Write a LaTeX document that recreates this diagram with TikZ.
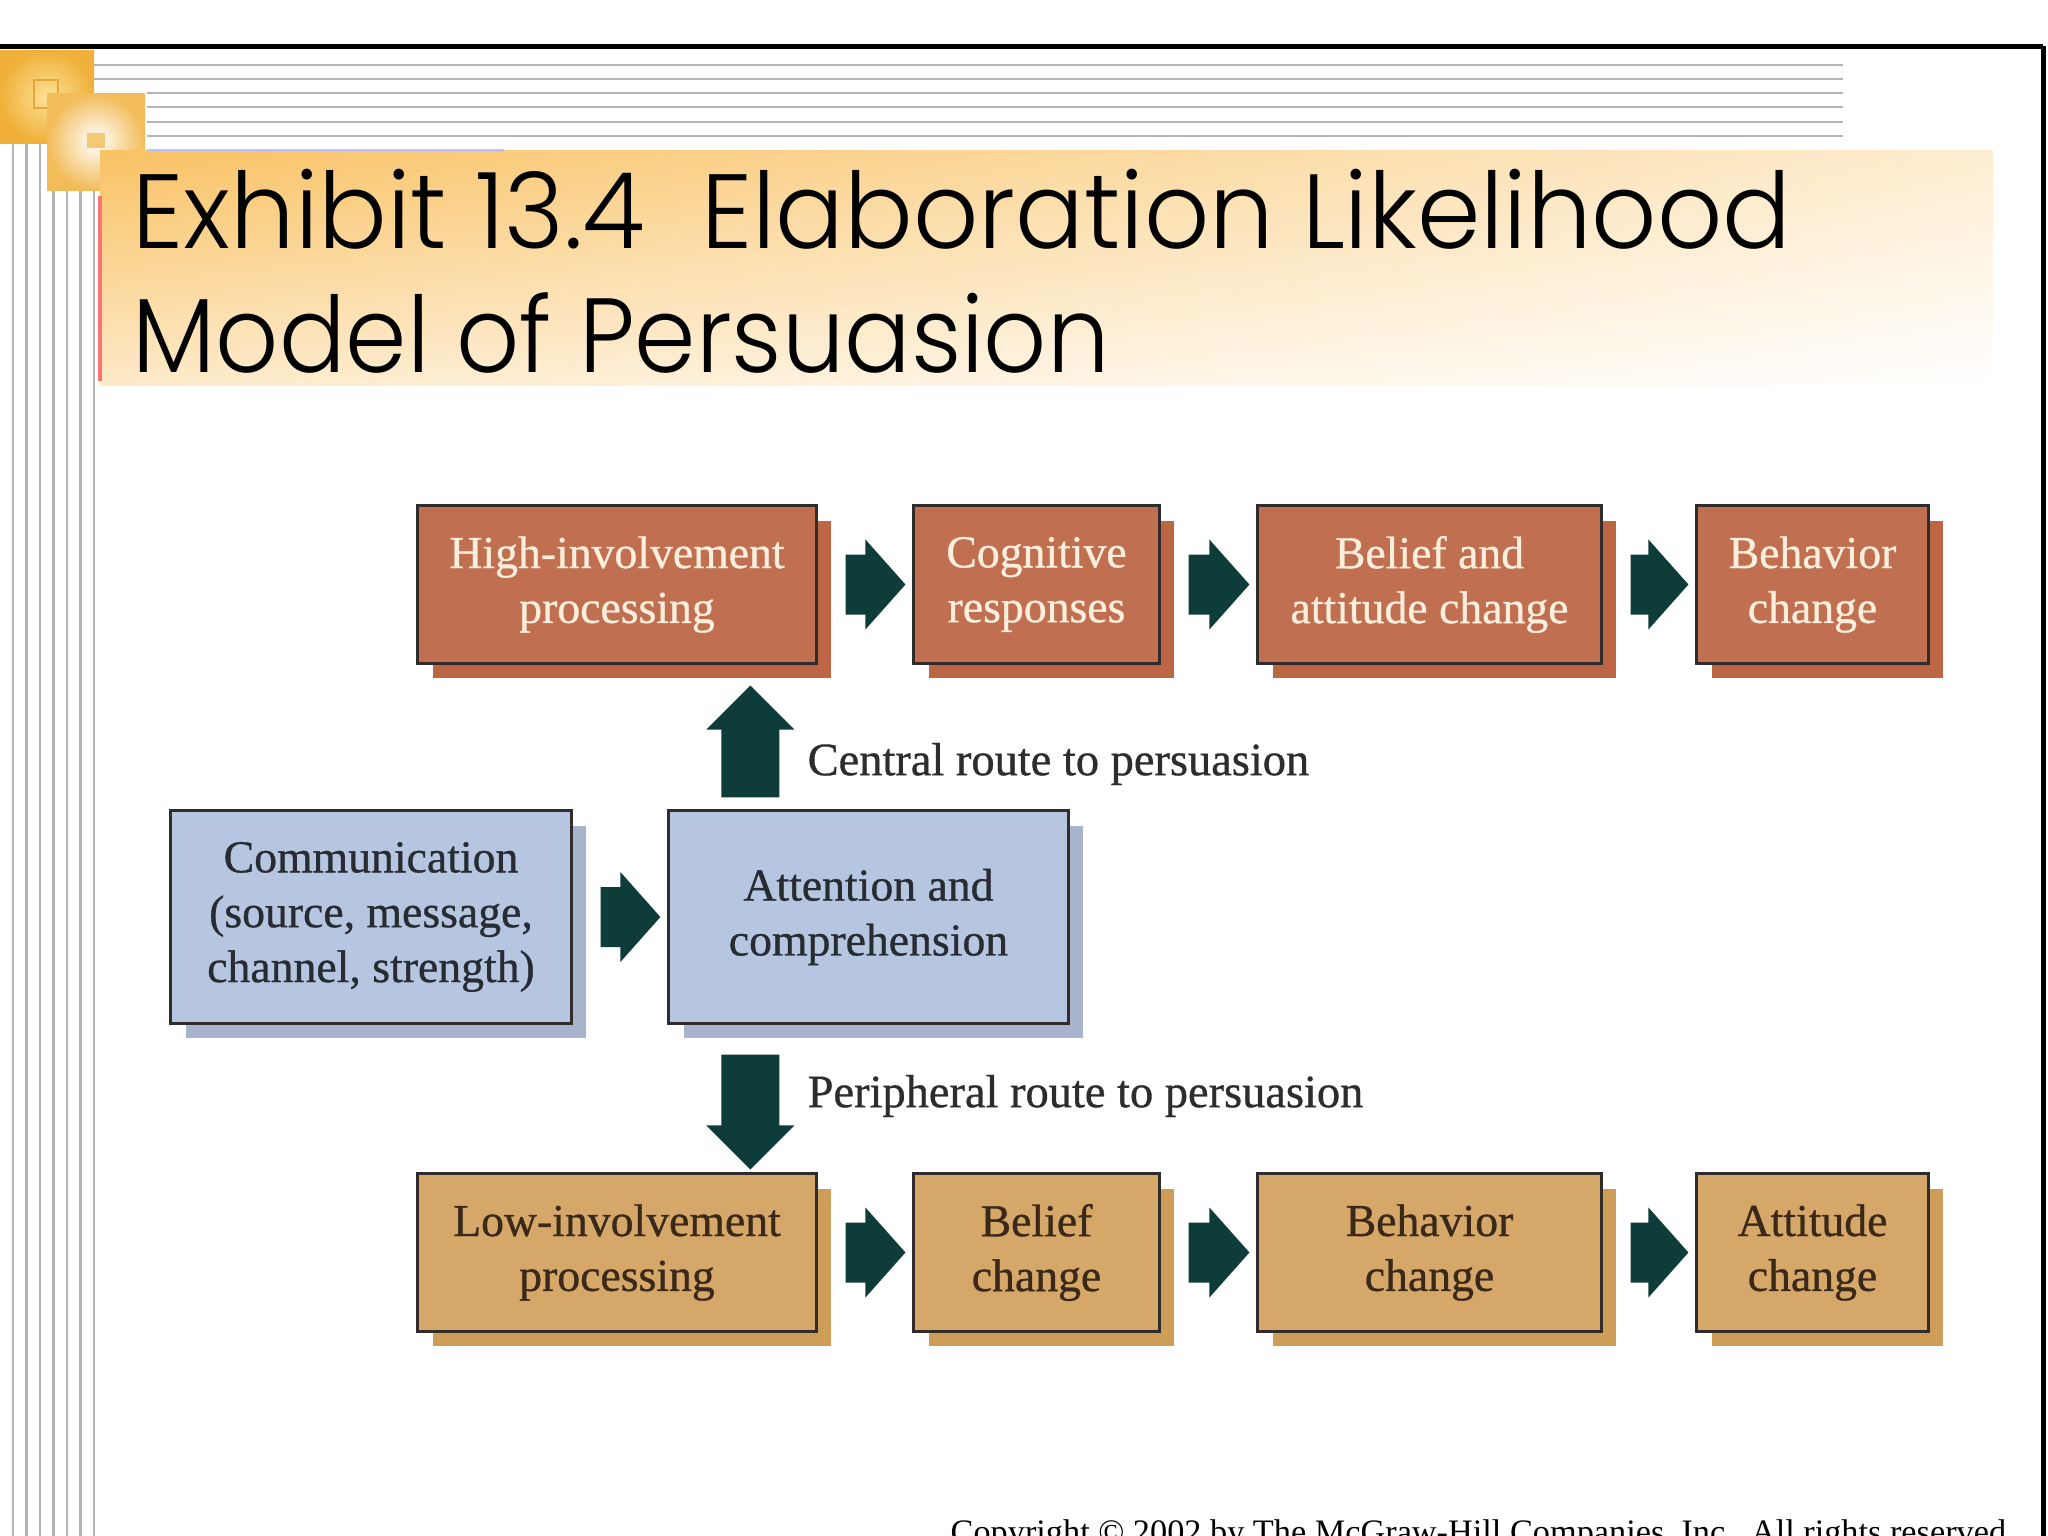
\documentclass[tikz,border=0pt]{standalone}
\usepackage{fontspec}
\setmainfont{Liberation Serif}
\newfontfamily\boxfont[FakeBold=0.7]{Liberation Serif}
\newfontfamily\titlefont{Poppins Light}
\usetikzlibrary{calc,shadows,shadings}
\definecolor{topfill}{RGB}{192,112,80}
\definecolor{topshadow}{RGB}{188,102,70}
\definecolor{toptext}{RGB}{252,238,220}
\definecolor{midfill}{RGB}{182,198,224}
\definecolor{midshadow}{RGB}{168,180,204}
\definecolor{midtext}{RGB}{38,44,50}
\definecolor{lowfill}{RGB}{213,168,105}
\definecolor{lowshadow}{RGB}{206,158,88}
\definecolor{lowtext}{RGB}{58,40,24}
\definecolor{boxborder}{RGB}{48,44,44}
\definecolor{arrowcol}{RGB}{14,60,56}
\definecolor{labelcol}{RGB}{45,45,45}
\definecolor{rulegray}{RGB}{180,180,180}
\definecolor{bandorange}{RGB}{249,194,100}
\definecolor{sqouter}{RGB}{240,176,58}
\definecolor{sqinner}{RGB}{252,226,150}
\newcommand{\hblockarrow}[2]{%
  \fill[arrowcol] ($(#1.east)+(28,-30)$) -- ($(#2.west)+(-47,-30)$) -- ($(#2.west)+(-47,-45)$)
    -- ($(#2.west)+(-7,0)$) -- ($(#2.west)+(-47,45)$) -- ($(#2.west)+(-47,30)$)
    -- ($(#1.east)+(28,30)$) -- cycle;}
\newcommand{\vblockarrow}[3]{%
  \fill[arrowcol] ($(#1)+(-29,0)$) -- ($(#2)+(-29,#3)$) -- ($(#2)+(-44,#3)$) -- (#2)
    -- ($(#2)+(44,#3)$) -- ($(#2)+(29,#3)$) -- ($(#1)+(29,0)$) -- cycle;}
\tikzset{
  box/.style={draw=boxborder, line width=0.03cm, inner sep=0pt, align=center,
    minimum height=1.57cm, font=\boxfont\fontsize{13}{15.6}\selectfont},
  topbox/.style={box, fill=topfill, text=toptext,
    drop shadow={shadow xshift=0.15cm, shadow yshift=-0.15cm, fill=topshadow, opacity=1}},
  midbox/.style={box, fill=midfill, text=midtext, minimum height=2.12cm,
    drop shadow={shadow xshift=0.15cm, shadow yshift=-0.15cm, fill=midshadow, opacity=1}},
  lowbox/.style={box, fill=lowfill, text=lowtext,
    drop shadow={shadow xshift=0.15cm, shadow yshift=-0.15cm, fill=lowshadow, opacity=1}},
  routelabel/.style={text=labelcol, inner sep=0pt, anchor=west, font=\boxfont\fontsize{13.2}{15.6}\selectfont},
  titletext/.style={inner sep=0pt, anchor=base west, font=\titlefont\fontsize{30}{36}\selectfont},
  vrule/.style={draw=rulegray, line width=0.025cm},
  hrule/.style={draw=rulegray, line width=0.02cm}
}
\begin{document}
\begin{tikzpicture}[x=0.01cm,y=-0.01cm]
\useasboundingbox (0,0) rectangle (2048,1536);
\fill[white] (0,0) rectangle (2048,1536);
% frame lines
\draw[black, line width=0.05cm] (0,46) -- (2043,46);
\draw[black, line width=0.05cm] (2043,46) -- (2043,1536);
% horizontal rules
\foreach \yy in {65,79} \draw[hrule] (94,\yy) -- (1843,\yy);
\foreach \yy in {93,107,122,136} \draw[hrule] (147,\yy) -- (1843,\yy);
% vertical rules
\foreach \xx in {13,26.5,40} \draw[vrule] (\xx,143) -- (\xx,1536);
\foreach \xx in {53.5,67,80.5,94} \draw[vrule] (\xx,190) -- (\xx,1536);
% decorative squares
\shade[inner color=sqinner, outer color=sqouter] (0,50) rectangle (94,143);
\draw[sqouter!80!brown, line width=0.02cm] (34,80) rectangle (58,108);
\shade[inner color=white, outer color=sqouter!85] (47,93) rectangle (145,190);
\fill[sqouter!70] (87,133) rectangle (105,148);
% title band
\shade[upper left=bandorange, upper right=bandorange!30, lower left=bandorange!35, lower right=white]
  (100,150) rectangle (1993,385);
\draw[blue!25, line width=0.03cm] (147,150) -- (504,150);
\draw[red!55, line width=0.04cm] (100,196) -- (100,381);
\node[titletext] (title1) at (132,248) {\scalebox{0.966}[1]{Exhibit 13.4\ \ Elaboration Likelihood}};
\node[titletext] (title2) at (132,372) {\scalebox{0.935}[1]{Model of Persuasion}};
% top row
\node[topbox, minimum width=3.98cm] (hi) at (617,584.5) {High-involvement\\processing};
\node[topbox, minimum width=2.45cm] (cog) at (1036.5,584.5) {Cognitive\\responses};
\node[topbox, minimum width=3.43cm] (bat) at (1429.5,584.5) {Belief and\\attitude change};
\node[topbox, minimum width=2.31cm] (beh) at (1812.5,584.5) {Behavior\\change};
% middle row
\node[midbox, minimum width=4.00cm] (comm) at (371,917) {Communication\\(source, message,\\channel, strength)};
\node[midbox, minimum width=3.99cm] (att) at (868.5,917) {Attention and\\comprehension};
% bottom row
\node[lowbox, minimum width=3.98cm] (low) at (617,1252.5) {Low-involvement\\processing};
\node[lowbox, minimum width=2.45cm] (bc) at (1036.5,1252.5) {Belief\\change};
\node[lowbox, minimum width=3.43cm] (bh) at (1429.5,1252.5) {Behavior\\change};
\node[lowbox, minimum width=2.31cm] (ac) at (1812.5,1252.5) {Attitude\\change};
% horizontal block arrows
\hblockarrow{hi}{cog}
\hblockarrow{cog}{bat}
\hblockarrow{bat}{beh}
\hblockarrow{comm}{att}
\hblockarrow{low}{bc}
\hblockarrow{bc}{bh}
\hblockarrow{bh}{ac}
% vertical block arrows
\coordinate (upb) at ($(att.north west)+(83,-12)$);
\coordinate (upt) at ($(upb |- hi.south)+(0,21)$);
\vblockarrow{upb}{upt}{44}
\coordinate (dnb) at ($(att.south west)+(83,30)$);
\coordinate (dnt) at ($(dnb |- low.north)+(0,-3)$);
\vblockarrow{dnb}{dnt}{-44}
% route labels
\node[routelabel] (central) at (807,764) {Central route to persuasion};
\node[routelabel] (periph) at (807,1096) {Peripheral route to persuasion};
% copyright (cut off by the page edge, as in the reference)
\begin{scope}
\clip (0,0) rectangle (2048,1536);
\node[inner sep=0pt, anchor=base west, font=\fontsize{9.75}{11}\selectfont] (copy) at (950,1543)
  {Copyright \textcopyright{} 2002 by The McGraw-Hill Companies, Inc.\ \ All rights reserved.};
\end{scope}
\end{tikzpicture}
\end{document}
